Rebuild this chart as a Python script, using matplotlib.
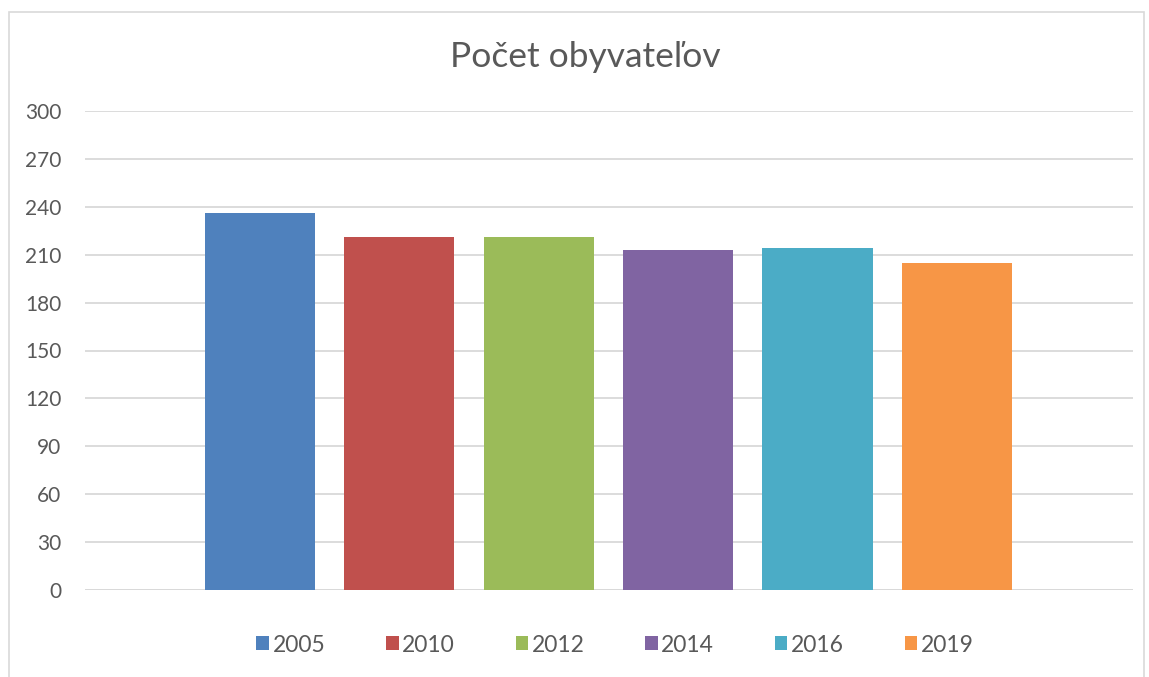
import matplotlib.pyplot as plt
from matplotlib.patches import Rectangle

years = ['2005', '2010', '2012', '2014', '2016', '2019']
values = [236, 221, 221, 213, 214, 205]
colors = ['#4F81BD', '#C0504D', '#9BBB59', '#8064A2', '#4BACC6', '#F79646']
yticks = [0, 30, 60, 90, 120, 150, 180, 210, 240, 270, 300]

plt.rcParams['font.family'] = ['Lato', 'DejaVu Sans']
text_color = '#595959'

fig = plt.figure(figsize=(11.49, 6.77), dpi=100)
ax = fig.add_axes([85 / 1149, 1 - 590 / 677, (1133 - 85) / 1149, (590 - 111) / 677])

# chart border
fig.patches.append(Rectangle((9 / 1149, -0.05), (1144 - 9) / 1149, 1 - 12 / 677 + 0.05,
                             transform=fig.transFigure, fill=False,
                             edgecolor='#d9d9d9', linewidth=1.2))

handles = []
for i, (yr, v, c) in enumerate(zip(years, values, colors)):
    b = ax.bar(i, v, width=0.79, color=c, label=yr, zorder=3)
    handles.append(b)

ax.set_xlim(-1.255, 6.263)
ax.set_ylim(0, 300)
ax.set_yticks(yticks)
ax.set_xticks([])
ax.grid(axis='y', color='#d9d9d9', linewidth=1.3, zorder=0)
for s in ax.spines.values():
    s.set_visible(False)
ax.axhline(0, color='#d9d9d9', linewidth=1.3, zorder=1)
ax.tick_params(axis='y', length=0, pad=17, labelsize=15, labelcolor=text_color)

fig.text(585 / 1149, 1 - 57 / 677, 'Počet obyvateľov', ha='center', va='center',
         fontsize=25.5, color=text_color)

fig.legend(handles=handles, labels=years, loc='center', ncol=6,
           bbox_to_anchor=(615 / 1149, 1 - 645 / 677), frameon=False,
           fontsize=16.5, labelcolor=text_color, handlelength=0.55, handleheight=0.55,
           handletextpad=0.15, columnspacing=2.65)

fig.savefig('out.png', dpi=100)
